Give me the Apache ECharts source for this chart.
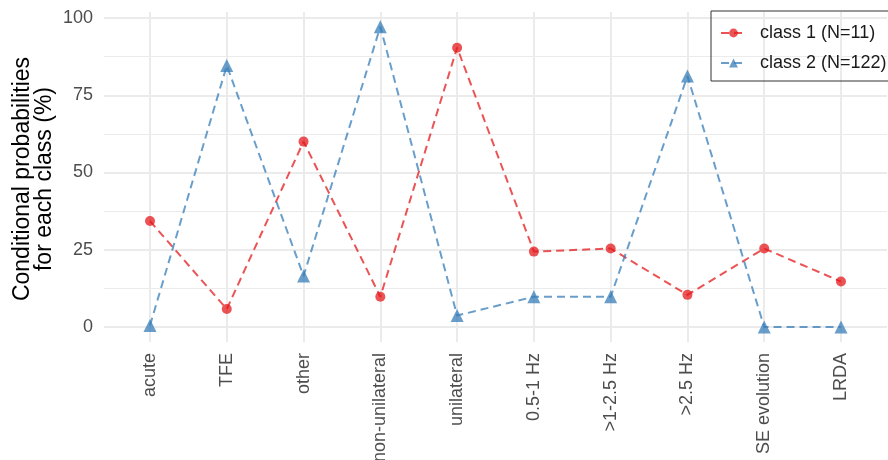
<!DOCTYPE html>
<html lang="en">
<head>
    <meta charset="UTF-8">
    <title></title>
    <script src="https://cdn.jsdelivr.net/npm/echarts@6/dist/echarts.min.js"></script>
    <style>
        body{margin:0;background:#fff;}
        #charts{width:888px;height:460px;}
    </style>
</head>
<body>
    <div id="charts"></div>
    <script type="text/javascript">
        var categories=['acute','TFE','other','non-unilateral','unilateral','0.5-1 Hz','>1-2.5 Hz','>2.5 Hz','SE evolution','LRDA'];
        var class1=[34.3,5.8,60,9.8,90.4,24.4,25.4,10.4,25.4,14.7];
        var class2=[0.5,84.6,16.5,97.2,3.7,9.8,9.8,81.2,0,0];
        var yTicks=[0,25,50,75,100];
        var names=['class 1 (N=11)','class 2 (N=122)'];
        var yTitle='Conditional probabilities\nfor each class (%)';

        var font='"Liberation Sans", Arial, sans-serif';
        var gridColor='#ebebeb';
        var myChart=echarts.init(document.getElementById('charts'));
        // grid 0: horizontal lines + y labels, grid 1: data, grid 2: vertical lines + x labels (panel is taller)
        var option={
            animation:false,
            textStyle:{fontFamily:font},
            grid:[
                {left:104,right:1,top:18,height:309,outerBoundsMode:'none'},
                {left:150,width:691,top:18,height:309,outerBoundsMode:'none'},
                {left:150,width:691,top:12,height:330,outerBoundsMode:'none'}
            ],
            graphic:[{
                type:'text',x:34,y:179,rotation:Math.PI/2,
                style:{text:yTitle,font:'23px '+font,fill:'#000',align:'center',verticalAlign:'middle',lineHeight:22}
            }],
            legend:{
                orient:'vertical',
                left:711,top:11,
                padding:[13,20,9,9],
                itemWidth:25,itemHeight:11,itemGap:12,
                borderColor:'#333',borderWidth:1,
                textStyle:{fontSize:18,color:'#1a1a1a',fontFamily:font,padding:[0,0,0,9]},
                data:names
            },
            xAxis:[
                {gridIndex:0,type:'value',min:0,max:1,show:false},
                {gridIndex:1,type:'category',data:categories,boundaryGap:false,show:false},
                {
                    gridIndex:2,type:'category',data:categories,boundaryGap:false,
                    axisLine:{show:false},axisTick:{show:false},
                    axisLabel:{rotate:90,margin:11,fontSize:18,color:'#4d4d4d',fontFamily:font,interval:0},
                    splitLine:{show:true,lineStyle:{color:gridColor,width:2}}
                }
            ],
            yAxis:[
                {
                    gridIndex:0,type:'value',min:yTicks[0],max:yTicks[yTicks.length-1],interval:25,
                    axisLine:{show:false},axisTick:{show:false},
                    axisLabel:{margin:11,fontSize:18,color:'#4d4d4d',fontFamily:font},
                    splitLine:{lineStyle:{color:gridColor,width:2}},
                    minorTick:{show:false,splitNumber:2},
                    minorSplitLine:{show:true,lineStyle:{color:gridColor,width:1}}
                },
                {gridIndex:1,type:'value',min:0,max:100,show:false},
                {gridIndex:2,type:'value',min:0,max:100,show:false}
            ],
            series:[
                {
                    name:names[0],type:'line',xAxisIndex:1,yAxisIndex:1,data:class1,
                    symbol:'circle',symbolSize:10,clip:false,
                    lineStyle:{type:[8,5],width:2,color:'#E41A1C',opacity:0.75},
                    itemStyle:{color:'#E41A1C',opacity:0.75}
                },
                {
                    name:names[1],type:'line',xAxisIndex:1,yAxisIndex:1,data:class2,
                    symbol:'triangle',symbolSize:13,clip:false,
                    lineStyle:{type:[8,5],width:2,color:'#377EB8',opacity:0.75},
                    itemStyle:{color:'#377EB8',opacity:0.75}
                }
            ]
        };
        myChart.setOption(option);
    </script>
</body>
</html>
